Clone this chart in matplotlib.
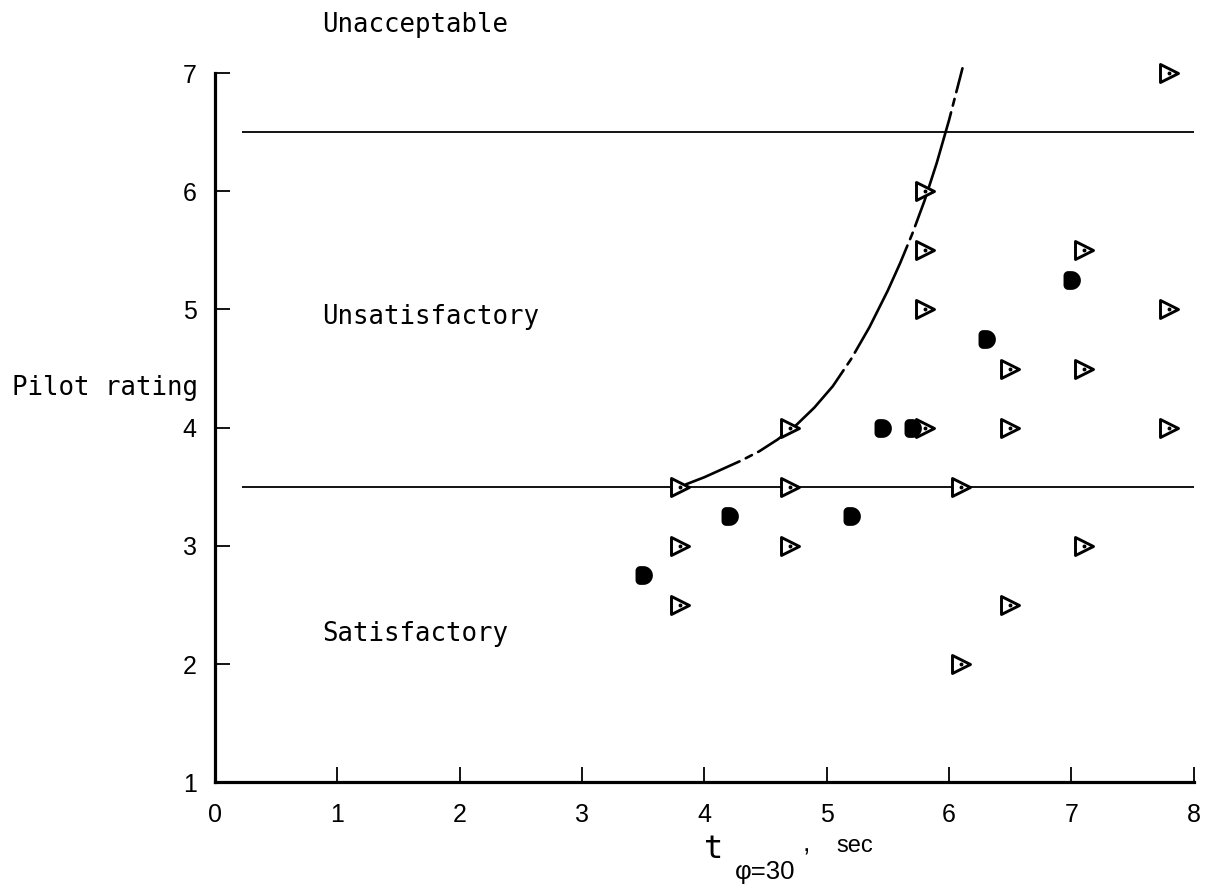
import numpy as np
import matplotlib
matplotlib.use("Agg")
import matplotlib.pyplot as plt
from matplotlib.markers import MarkerStyle
from matplotlib.path import Path

plt.rcParams['lines.scale_dashes'] = False

# Open symbols: pilot ratings vs. time to bank 30 deg
open_t = [7.8, 5.8, 5.8, 7.1, 5.8, 7.8, 6.5, 7.1, 4.7, 5.8, 6.5, 7.8,
          3.8, 4.7, 6.1, 3.8, 4.7, 7.1, 3.8, 6.5, 6.1]
open_pr = [7.0, 6.0, 5.5, 5.5, 5.0, 5.0, 4.5, 4.5, 4.0, 4.0, 4.0, 4.0,
           3.5, 3.5, 3.5, 3.0, 3.0, 3.0, 2.5, 2.5, 2.0]

# Solid symbols
solid_t = [3.5, 4.2, 5.2, 5.45, 5.7, 6.3, 7.0]
solid_pr = [2.75, 3.25, 3.25, 4.0, 4.0, 4.75, 5.25]

# Faired boundary between satisfactory and unsatisfactory
curve_t = [3.85, 4.0, 4.15, 4.3, 4.45, 4.6, 4.75, 4.9, 5.05, 5.2, 5.35,
           5.5, 5.6, 5.7, 5.8, 5.9, 6.0, 6.11]
curve_pr = [3.52, 3.58, 3.65, 3.72, 3.80, 3.90, 4.02, 4.17, 4.35, 4.58,
            4.85, 5.16, 5.39, 5.64, 5.92, 6.24, 6.60, 7.04]

# Rating-level boundaries
boundaries = [6.5, 3.5]

x_ticks = [0, 1, 2, 3, 4, 5, 6, 7, 8]
y_ticks = [1, 2, 3, 4, 5, 6, 7]

W, H = 1207, 896
fig = plt.figure(figsize=(W / 100, H / 100), dpi=100)
ax = fig.add_axes([0.178, 0.127, 0.811, 0.7915])
ax.set_xlim(0, 8)
ax.set_ylim(1, 7)

for s in ['top', 'right']:
    ax.spines[s].set_visible(False)
for s in ['left', 'bottom']:
    ax.spines[s].set_linewidth(2.3)

ax.set_xticks(x_ticks)
ax.set_yticks(y_ticks)
ax.tick_params(axis='both', direction='in', length=11, width=1.3,
               labelsize=18)
ax.tick_params(axis='y', pad=13)
ax.tick_params(axis='x', pad=15)
for lab in ax.get_xticklabels() + ax.get_yticklabels():
    lab.set_fontfamily('Liberation Sans')

# Boundary lines
ax.hlines(boundaries, 0.22, 8, colors='black', linewidth=1.3)

# Faired curve, long dash - dot
ax.plot(curve_t, curve_pr, color='black', linewidth=1.9,
        linestyle=(44, (86, 5, 5, 5)), solid_capstyle='round',
        dash_capstyle='round', solid_joinstyle='round', clip_on=False,
        zorder=3)

# Open right-pointing triangles with center dot
tri = MarkerStyle('>', joinstyle='round')
ax.plot(open_t, open_pr, linestyle='none', marker=tri, markersize=12.5,
        markerfacecolor='white', markeredgecolor='black',
        markeredgewidth=2.1, clip_on=False, zorder=4)
ax.plot(open_t, open_pr, linestyle='none', marker='o', markersize=1.8,
        color='black', clip_on=False, zorder=5)

# D-shaped solid symbols: flat-ish left side, round right side
theta = np.linspace(-np.pi / 2, np.pi / 2, 25)
right = np.column_stack([np.cos(theta), np.sin(theta)])
r = 0.5
c1 = np.linspace(np.pi / 2, np.pi, 10)
tl = np.column_stack([-0.35 + r * np.cos(c1), 0.5 + r * np.sin(c1)])
c2 = np.linspace(np.pi, 1.5 * np.pi, 10)
bl = np.column_stack([-0.35 + r * np.cos(c2), -0.5 + r * np.sin(c2)])
verts = np.vstack([right, tl, bl])
d_path = Path(np.vstack([verts, verts[:1]]), closed=True)
ax.plot(solid_t, solid_pr, linestyle='none', marker=MarkerStyle(d_path),
        markersize=13.5, color='black', markeredgewidth=0, clip_on=False,
        zorder=4)

# Region labels
mono = 'DejaVu Sans Mono'
ax.text(0.875, 7.41, 'Unacceptable', fontsize=18.5, family=mono,
        va='center', ha='left', clip_on=False)
ax.text(0.875, 4.94, 'Unsatisfactory', fontsize=18.5, family=mono,
        va='center', ha='left')
ax.text(0.875, 2.25, 'Satisfactory', fontsize=18.5, family=mono,
        va='center', ha='left')

# Axis titles
ax.text(-0.207, 0.556, 'Pilot rating', fontsize=18.5, family=mono,
        va='center', ha='left', transform=ax.transAxes)


def px_text(x, y, s, **kw):
    fig.text(x / W, 1 - y / H, s, va='baseline', ha='left', **kw)


px_text(704, 858, 't', fontsize=23, family=mono)
px_text(735, 879, 'φ=30', fontsize=18.5,
        family=['Liberation Sans', 'DejaVu Sans'])
px_text(803, 851, ',', fontsize=19, family='Liberation Sans')
px_text(836, 852, 'sec', fontsize=17, family='Liberation Sans')

fig.savefig('out.png', dpi=100, facecolor='white')
